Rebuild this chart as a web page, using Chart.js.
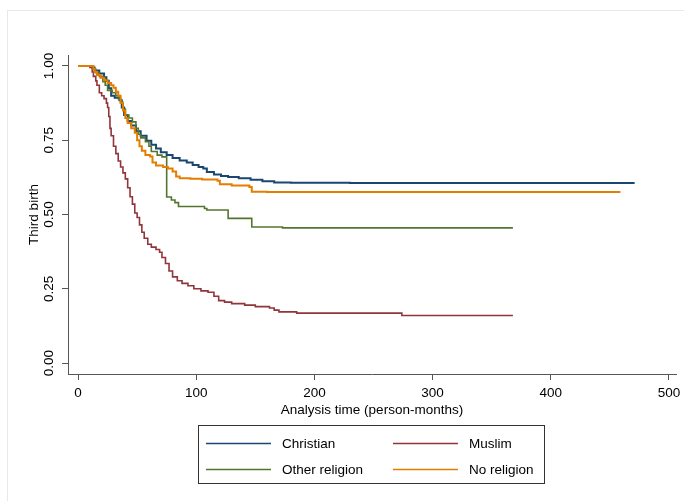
<!DOCTYPE html>
<html>
<head>
<meta charset="utf-8">
<script src="https://cdn.jsdelivr.net/npm/chart.js@4/dist/chart.umd.min.js"></script>
<style>
  html, body { margin: 0; padding: 0; background: #ffffff; }
  #wrap { width: 684px; height: 501px; position: relative; }
</style>
</head>
<body>
<div id="wrap"><canvas id="c" width="684" height="501"></canvas></div>
<script>
// ---- Data ----
const seriesLabels = ["Christian", "Muslim", "Other religion", "No religion"];
const seriesColors = ["#1a476f", "#90353b", "#55752f", "#e37e00"];

// Analysis time (months) at each step, and survival after the step
const christianT = [0, 12, 14, 18, 22, 24, 26, 28, 31, 35, 37, 39, 42, 45, 49, 53, 58, 62, 66, 70, 75, 80, 86, 92, 97, 102, 106, 109, 115, 121, 127, 136, 146, 156, 166, 180, 230, 471];
const christianS = [1.0, 0.995, 0.985, 0.975, 0.962, 0.95, 0.925, 0.9, 0.893, 0.885, 0.86, 0.835, 0.815, 0.8, 0.78, 0.765, 0.748, 0.735, 0.722, 0.71, 0.7, 0.69, 0.682, 0.675, 0.667, 0.66, 0.655, 0.643, 0.635, 0.63, 0.626, 0.622, 0.617, 0.612, 0.608, 0.607, 0.606, 0.606];

const muslimT = [0, 10, 12, 13, 15, 16, 18, 20, 22, 24, 25, 26, 27, 28, 30, 32, 34, 36, 38, 40, 42, 44, 46, 48, 50, 52, 54, 56, 59, 62, 66, 69, 71, 74, 77, 80, 84, 88, 93, 98, 104, 110, 115, 119, 124, 130, 141, 150, 162, 166, 170, 185, 274, 368];
const muslimS = [1.0, 0.995, 0.98, 0.965, 0.95, 0.935, 0.91, 0.9, 0.89, 0.875, 0.86, 0.83, 0.79, 0.765, 0.73, 0.705, 0.68, 0.66, 0.64, 0.62, 0.59, 0.56, 0.535, 0.505, 0.49, 0.465, 0.44, 0.42, 0.4, 0.39, 0.382, 0.373, 0.355, 0.335, 0.31, 0.29, 0.277, 0.268, 0.26, 0.25, 0.243, 0.238, 0.225, 0.21, 0.205, 0.2, 0.195, 0.19, 0.185, 0.178, 0.172, 0.168, 0.16, 0.16];

const otherT = [0, 13, 15, 18, 21, 23, 25, 29, 32, 34, 36, 38, 40, 43, 46, 49, 51, 53, 57, 60, 62, 67, 71, 75, 79, 82, 85, 107, 109, 127, 147, 173, 368];
const otherS = [1.0, 0.99, 0.977, 0.965, 0.947, 0.935, 0.918, 0.91, 0.9, 0.89, 0.878, 0.855, 0.835, 0.825, 0.812, 0.79, 0.77, 0.758, 0.745, 0.73, 0.712, 0.7, 0.694, 0.559, 0.549, 0.54, 0.527, 0.52, 0.515, 0.487, 0.458, 0.455, 0.455];

const noneT = [0, 13, 14, 16, 19, 22, 25, 28, 30, 32, 34, 36, 38, 40, 42, 45, 48, 50, 52, 54, 57, 61, 63, 66, 72, 76, 80, 83, 86, 95, 105, 118, 120, 130, 145, 147, 160, 459];
const noneS = [1.0, 0.99, 0.98, 0.97, 0.96, 0.952, 0.943, 0.935, 0.927, 0.913, 0.9, 0.875, 0.85, 0.825, 0.808, 0.79, 0.775, 0.75, 0.73, 0.715, 0.7, 0.695, 0.675, 0.665, 0.66, 0.655, 0.645, 0.628, 0.622, 0.62, 0.618, 0.614, 0.602, 0.598, 0.593, 0.577, 0.576, 0.576];

const xTicks = [0, 100, 200, 300, 400, 500];
const yTicks = [0, 0.25, 0.5, 0.75, 1];
const xTitle = "Analysis time (person-months)";
const yTitle = "Third birth";

// ---- Build ----
function pts(t, s) { return t.map((v, i) => ({ x: v, y: s[i] })); }
const allT = [christianT, muslimT, otherT, noneT];
const allS = [christianS, muslimS, otherS, noneS];
const widths = [2, 1.6, 1.6, 2];
const orders = [3, 2, 1, 0];

const FONT = "'Liberation Sans', Arial, Helvetica, sans-serif";
const AXIS = "#555555";

const frame = {
  id: 'frame',
  beforeDraw(chart) {
    const ctx = chart.ctx;
    ctx.save();
    ctx.strokeStyle = '#e2eaec';
    ctx.lineWidth = 1;
    ctx.strokeRect(7.5, 10.5, 720, 520);
    ctx.restore();
  }
};

const boxLegend = {
  id: 'boxLegend',
  afterDraw(chart) {
    const ctx = chart.ctx;
    const ds = chart.data.datasets;
    ctx.save();
    ctx.strokeStyle = '#333333';
    ctx.lineWidth = 1;
    ctx.strokeRect(198.5, 425.5, 346, 58);
    ctx.font = "13.5px " + FONT;
    ctx.fillStyle = '#000000';
    ctx.textBaseline = 'middle';
    ctx.textAlign = 'left';
    const colX = [206, 393];
    const rowY = [443, 469];
    ds.forEach((d, i) => {
      const cx = colX[i % 2], cy = rowY[Math.floor(i / 2)];
      ctx.strokeStyle = d.borderColor;
      ctx.lineWidth = 1.5;
      ctx.beginPath();
      ctx.moveTo(cx, cy + 0.5);
      ctx.lineTo(cx + 65, cy + 0.5);
      ctx.stroke();
      ctx.fillText(d.label, cx + 76, cy + 1);
    });
    ctx.restore();
  }
};

new Chart(document.getElementById('c'), {
  type: 'line',
  data: {
    datasets: seriesLabels.map((lab, i) => ({
      label: lab,
      data: pts(allT[i], allS[i]),
      borderColor: seriesColors[i],
      backgroundColor: seriesColors[i],
      borderWidth: widths[i],
      pointRadius: 0,
      stepped: true,
      fill: false,
      order: orders[i]
    }))
  },
  options: {
    responsive: false,
    animation: false,
    events: [],
    layout: { padding: { left: 0, top: 55, right: 8, bottom: 81 } },
    plugins: { legend: { display: false }, tooltip: { enabled: false } },
    scales: {
      x: {
        type: 'linear',
        min: -8.5, max: 506,
        afterBuildTicks: s => { s.ticks = xTicks.map(v => ({ value: v })); },
        afterFit: s => { s.height = 46; s.paddingLeft = 0; s.paddingRight = 0; },
        grid: { display: true, drawOnChartArea: false, drawTicks: true, tickLength: 6, color: AXIS, lineWidth: 1 },
        border: { display: true, color: AXIS, width: 1 },
        ticks: { color: '#000', font: { family: FONT, size: 13.5 }, padding: 5, maxRotation: 0, minRotation: 0 },
        title: { display: true, text: xTitle, color: '#000', font: { family: FONT, size: 13.5 }, padding: { top: 0, bottom: 2 } }
      },
      y: {
        type: 'linear',
        min: -0.037, max: 1.037,
        afterBuildTicks: s => { s.ticks = yTicks.map(v => ({ value: v })); },
        afterFit: s => { s.width = 68; s.paddingTop = 0; s.paddingBottom = 0; },
        grid: { display: true, drawOnChartArea: false, drawTicks: true, tickLength: 6, color: AXIS, lineWidth: 1 },
        border: { display: true, color: AXIS, width: 1 },
        ticks: { color: '#000', font: { family: FONT, size: 13.5 }, padding: 0, minRotation: 90, maxRotation: 90, crossAlign: 'center',
                 callback: v => Number(v).toFixed(2) },
        title: { display: true, text: yTitle, color: '#000', font: { family: FONT, size: 13.5 }, padding: { top: 26, bottom: 0 } }
      }
    }
  },
  plugins: [frame, boxLegend]
});
</script>
</body>
</html>
